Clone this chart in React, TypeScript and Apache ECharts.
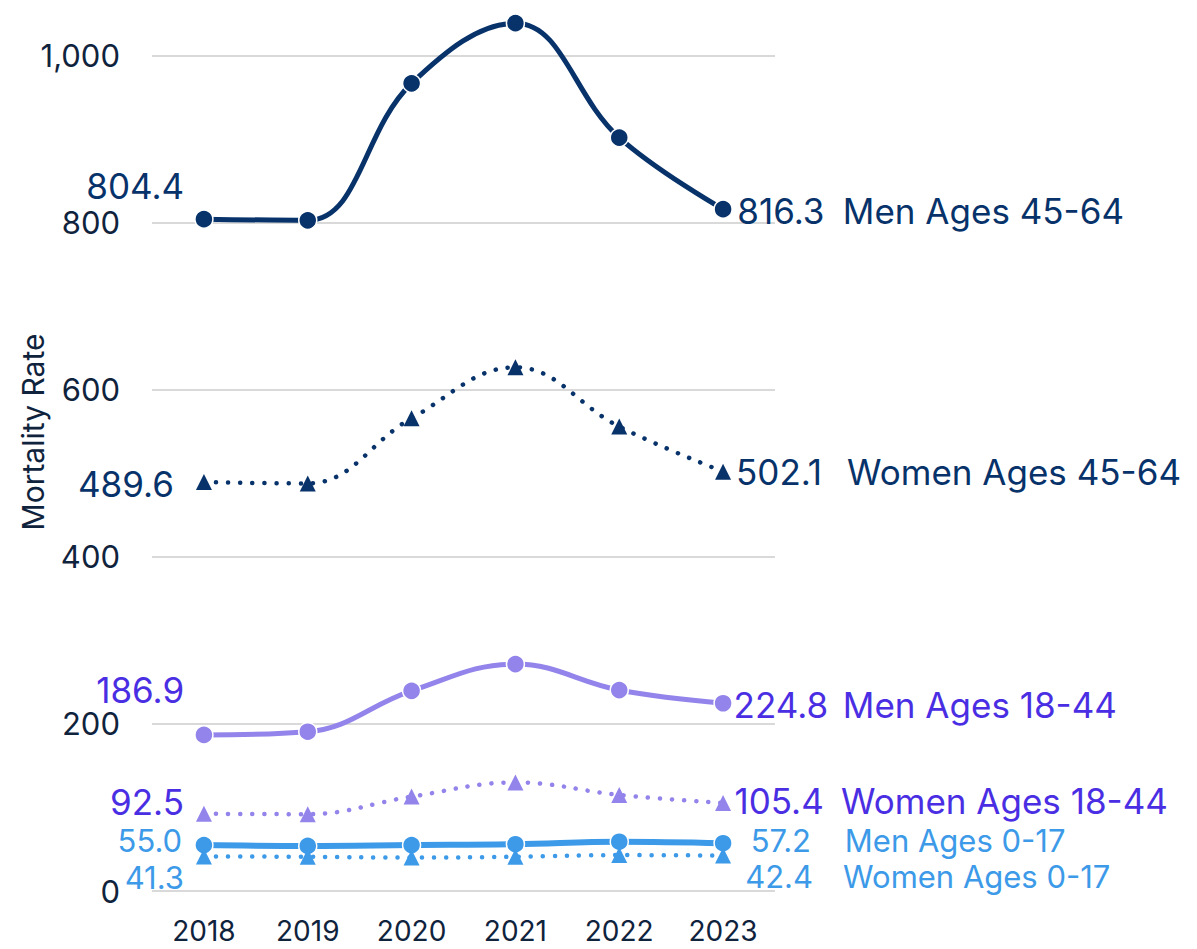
import React, { useEffect, useRef } from "react";
import * as echarts from "echarts";

const years = ["2018", "2019", "2020", "2021", "2022", "2023"];
const yTicks = { min: 0, max: 1050, interval: 200 };

const menOld = [804.4, 803, 967, 1039, 902, 816.3];
const womenOld = [489.6, 488, 566, 627, 556, 502.1];
const menMid = [186.9, 190.7, 239.7, 271.7, 240.6, 224.8];
const womenMid = [92.5, 92, 113, 130, 115, 105.4];
const menYoung = [55.0, 54, 55, 56, 59, 57.2];
const womenYoung = [41.3, 41, 40, 41, 43, 42.4];

const seriesNames = [
  "Men Ages 45-64",
  "Women Ages 45-64",
  "Men Ages 18-44",
  "Women Ages 18-44",
  "Men Ages 0-17",
  "Women Ages 0-17",
];

const FONT = "Inter, 'DejaVu Sans', sans-serif";
const NAVY = "#07326a";
const LAVENDER = "#9284ea";
const PURPLE = "#4a2ee3";
const BLUE = "#3d9ae8";
const AXIS_TEXT = "#10233d";

type Spec = {
  name: string;
  values: number[];
  line: string;
  text: string;
  dotted: boolean;
  symbol: string;
  width: number;
  size: number;
  firstDist: number;
  firstDy: number;
  lastDy: number;
  namePad: number;
};

const specs: Spec[] = [
  { name: seriesNames[0], values: menOld, line: NAVY, text: NAVY, dotted: false, symbol: "circle", width: 5, size: 35, firstDist: 10, firstDy: -33, lastDy: 2, namePad: 16 },
  { name: seriesNames[1], values: womenOld, line: NAVY, text: NAVY, dotted: true, symbol: "triangle", width: 4.5, size: 35, firstDist: 22, firstDy: 2, lastDy: 0, namePad: 22 },
  { name: seriesNames[2], values: menMid, line: LAVENDER, text: PURPLE, dotted: false, symbol: "circle", width: 5, size: 35, firstDist: 10, firstDy: -45, lastDy: 2, namePad: 16 },
  { name: seriesNames[3], values: womenMid, line: LAVENDER, text: PURPLE, dotted: true, symbol: "triangle", width: 4.5, size: 35, firstDist: 12, firstDy: -12, lastDy: -2, namePad: 16 },
  { name: seriesNames[4], values: menYoung, line: BLUE, text: BLUE, dotted: false, symbol: "circle", width: 6, size: 31, firstDist: 12, firstDy: -5, lastDy: -3, namePad: 18 },
  { name: seriesNames[5], values: womenYoung, line: BLUE, text: BLUE, dotted: true, symbol: "triangle", width: 4.5, size: 31, firstDist: 12, firstDy: 21, lastDy: 21, namePad: 18 },
];

function buildSeries(s: Spec) {
  const last = s.values.length - 1;
  const lh = Math.round(s.size * 0.85);
  const data = s.values.map((v, i) => {
    if (i === 0) {
      return {
        value: v,
        label: {
          show: true,
          position: "left",
          distance: s.firstDist,
          offset: [0, s.firstDy],
          formatter: () => v.toFixed(1),
          color: s.text,
          fontSize: s.size,
          lineHeight: lh,
          fontFamily: FONT,
        },
      };
    }
    if (i === last) {
      return {
        value: v,
        label: {
          show: true,
          position: "right",
          distance: 2,
          offset: [0, s.lastDy],
          formatter: () => `{v|${v.toFixed(1)}}{n|${s.name}}`,
          rich: {
            v: { width: 92, align: "right", color: s.text, fontSize: s.size, lineHeight: lh, fontFamily: FONT },
            n: { padding: [0, 0, 0, s.namePad], color: s.text, fontSize: s.size, lineHeight: lh, fontFamily: FONT },
          },
        },
      };
    }
    return v;
  });
  return {
    name: s.name,
    type: "line",
    data,
    smooth: 0.4,
    symbol: s.symbol,
    symbolSize: s.symbol === "circle" ? 18 : 16,
    showAllSymbol: true,
    clip: false,
    lineStyle: s.dotted
      ? { color: s.line, width: s.width, type: [0.1, 12], cap: "round" }
      : { color: s.line, width: s.width },
    itemStyle: {
      color: s.line,
      borderColor: s.symbol === "circle" ? "#ffffff" : s.line,
      borderWidth: s.symbol === "circle" ? 1.5 : 0,
    },
    emphasis: { disabled: true },
  };
}

export default function App() {
  const ref = useRef<HTMLDivElement>(null);
  useEffect(() => {
    if (!ref.current) return;
    const chart = echarts.init(ref.current, undefined, { renderer: "svg" });
    chart.setOption({
      animation: false,
      backgroundColor: "#ffffff",
      grid: { left: 152, right: 422, top: 14, bottom: 58 },
      xAxis: {
        type: "category",
        data: years,
        boundaryGap: true,
        axisLine: { show: false },
        axisTick: { show: false },
        axisLabel: { color: AXIS_TEXT, fontSize: 28, fontFamily: FONT, margin: 26 },
      },
      yAxis: {
        type: "value",
        min: yTicks.min,
        max: yTicks.max,
        interval: yTicks.interval,
        axisLine: { show: false },
        axisTick: { show: false },
        axisLabel: { color: AXIS_TEXT, fontSize: 31, fontFamily: FONT, margin: 32, showMaxLabel: false },
        splitLine: { show: true, showMaxLine: false, lineStyle: { color: "#d9d9d9", width: 2 } },
      },
      graphic: [
        {
          type: "text",
          x: 33,
          y: 432,
          rotation: Math.PI / 2,
          style: {
            text: "Mortality Rate",
            fill: AXIS_TEXT,
            fontSize: 30,
            fontFamily: FONT,
            align: "center",
            verticalAlign: "middle",
          },
        },
      ],
      series: specs.map(buildSeries),
    });
    return () => chart.dispose();
  }, []);
  return (
    <div
      ref={ref}
      style={{ position: "fixed", left: 0, top: 0, width: 1197, height: 949, background: "#fff" }}
    />
  );
}
